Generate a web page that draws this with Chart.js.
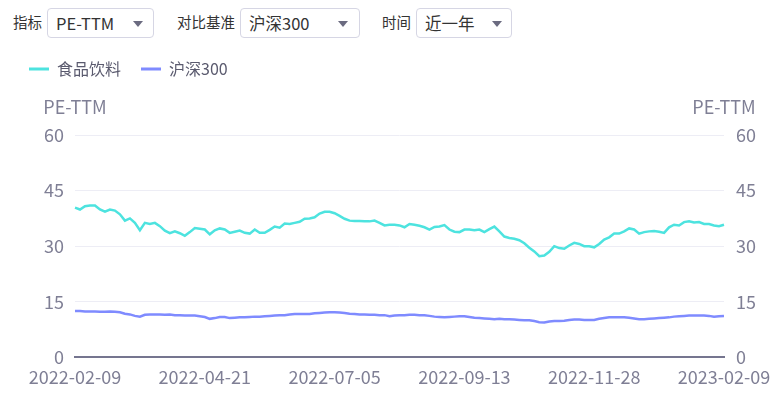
<!DOCTYPE html>
<html>
<head>
<meta charset="utf-8">
<script src="https://cdn.jsdelivr.net/npm/chart.js@4"></script>
<style>
  html, body { margin: 0; padding: 0; background: #fff; }
  body { width: 781px; height: 397px; position: relative; overflow: hidden;
         font-family: "Noto Sans CJK SC", "Noto Sans", sans-serif; }
  .lbl { position: absolute; top: 12px; font-size: 14.5px; color: #333; line-height: 20px; }
  .sel { position: absolute; top: 8px; height: 28px; border: 1px solid #d6d6e4; border-radius: 4px;
         box-sizing: content-box; font-size: 16.5px; color: #333; line-height: 28px; }
  .sel span { position: absolute; left: 8px; top: 0; }
  .sel i { position: absolute; top: 12px; width: 0; height: 0;
           border-left: 5px solid transparent; border-right: 5px solid transparent;
           border-top: 6px solid #6b6b80; }
  #wrap { position: absolute; left: 0; top: 0; width: 781px; height: 397px; }
</style>
</head>
<body>
<div class="lbl" style="left:13px">指标</div>
<div class="sel" style="left:47px;width:105px"><span>PE-TTM</span><i style="left:85px"></i></div>
<div class="lbl" style="left:177px">对比基准</div>
<div class="sel" style="left:240px;width:118px"><span>沪深300</span><i style="left:97px"></i></div>
<div class="lbl" style="left:382px">时间</div>
<div class="sel" style="left:416px;width:94px"><span>近一年</span><i style="left:75px"></i></div>

<div id="wrap"><canvas id="peChart" width="781" height="397"></canvas></div>

<script>
// x轴刻度标签(每26个点一个)
const tickLabels = ['2022-02-09', '2022-04-21', '2022-07-05', '2022-09-13', '2022-11-28', '2023-02-09'];
const tickStep = 26;

// 食品饮料 PE-TTM
const foodPE = [
    40.4, 39.9, 40.8, 41.0, 41.0, 39.9, 39.3, 39.9, 39.6, 38.6,
    36.9, 37.5, 36.3, 34.3, 36.3, 36.0, 36.3, 35.4, 34.2, 33.5,
    34.0, 33.5, 32.8, 33.8, 34.9, 34.7, 34.5, 33.2, 34.3, 34.8,
    34.5, 33.6, 33.9, 34.2, 33.6, 33.4, 34.5, 33.6, 33.6, 34.4,
    35.3, 35.0, 36.1, 36.0, 36.3, 36.6, 37.4, 37.5, 37.8, 38.8,
    39.3, 39.3, 38.9, 38.2, 37.4, 36.9, 36.8, 36.8, 36.7, 36.7,
    36.9, 36.3, 35.6, 35.8, 35.8, 35.6, 35.1, 36.0, 35.8, 35.5,
    35.1, 34.5, 35.2, 35.3, 35.7, 34.5, 33.9, 33.8, 34.5, 34.5,
    34.3, 34.5, 33.8, 34.6, 35.3, 34.0, 32.6, 32.2, 32.0, 31.6,
    30.8, 29.6, 28.6, 27.3, 27.5, 28.5, 30.0, 29.5, 29.3, 30.2,
    30.9, 30.6, 30.0, 30.0, 29.7, 30.6, 31.8, 32.4, 33.4, 33.4,
    34.0, 34.8, 34.5, 33.4, 33.8, 34.0, 34.1, 33.9, 33.6, 35.1,
    35.8, 35.6, 36.5, 36.7, 36.4, 36.5, 36.0, 36.0, 35.6, 35.4,
    35.8
];

// 沪深300 PE-TTM
const hs300PE = [
    12.5, 12.5, 12.4, 12.4, 12.4, 12.3, 12.3, 12.4, 12.3, 12.2,
    11.8, 11.6, 11.2, 11.0, 11.5, 11.6, 11.6, 11.6, 11.5, 11.6,
    11.4, 11.4, 11.3, 11.3, 11.3, 11.1, 10.9, 10.4, 10.6, 10.9,
    10.9, 10.6, 10.7, 10.8, 10.8, 10.9, 11.0, 11.0, 11.1, 11.2,
    11.3, 11.4, 11.4, 11.6, 11.7, 11.7, 11.7, 11.7, 11.9, 12.0,
    12.1, 12.2, 12.2, 12.1, 12.0, 11.8, 11.7, 11.6, 11.6, 11.5,
    11.5, 11.4, 11.4, 11.1, 11.3, 11.4, 11.4, 11.5, 11.5, 11.4,
    11.4, 11.2, 11.0, 10.9, 10.8, 10.9, 11.0, 11.1, 11.1, 10.9,
    10.7, 10.6, 10.5, 10.4, 10.3, 10.4, 10.3, 10.3, 10.2, 10.1,
    10.0, 10.0, 9.8, 9.5, 9.4, 9.7, 9.8, 9.8, 9.9, 10.1,
    10.2, 10.2, 10.1, 10.1, 10.1, 10.4, 10.6, 10.8, 10.8, 10.8,
    10.8, 10.7, 10.5, 10.3, 10.3, 10.4, 10.5, 10.6, 10.7, 10.8,
    11.0, 11.1, 11.2, 11.3, 11.3, 11.3, 11.3, 11.2, 11.0, 11.1,
    11.2
];

const seriesNames = ['食品饮料', '沪深300'];
const seriesColors = ['#4de3df', '#7f8bff'];

document.addEventListener("DOMContentLoaded", function () {
    const labels = foodPE.map((v, i) => i % tickStep === 0 ? tickLabels[i / tickStep] : '');
    const axisColor = '#7f7f95';
    const tickFont = { size: 18, family: '"Noto Sans CJK SC", "Noto Sans", sans-serif' };

    // 图例下方留白
    const legendMargin = {
        id: 'legendMargin',
        beforeInit(chart) {
            const fit = chart.legend.fit;
            chart.legend.fit = function () {
                fit.bind(chart.legend)();
                this.height = 94;
            };
        }
    };

    // 左右两侧的 PE-TTM 标题
    const axisTitles = {
        id: 'axisTitles',
        afterDraw(chart) {
            const ctx = chart.ctx;
            const area = chart.chartArea;
            ctx.save();
            ctx.font = '18px "Noto Sans CJK SC", "Noto Sans", sans-serif';
            ctx.fillStyle = axisColor;
            ctx.textAlign = 'center';
            ctx.textBaseline = 'middle';
            ctx.fillText('PE-TTM', area.left, 107);
            ctx.fillText('PE-TTM', area.right, 107);
            ctx.restore();
        }
    };

    new Chart(document.getElementById('peChart'), {
        type: 'line',
        data: {
            labels: labels,
            datasets: [{
                label: seriesNames[0],
                data: foodPE,
                borderColor: seriesColors[0],
                backgroundColor: seriesColors[0],
                borderWidth: 2.5,
                pointRadius: 0,
                tension: 0,
                yAxisID: 'y'
            }, {
                label: seriesNames[1],
                data: hs300PE,
                borderColor: seriesColors[1],
                backgroundColor: seriesColors[1],
                borderWidth: 2.5,
                pointRadius: 0,
                tension: 0,
                yAxisID: 'y'
            }]
        },
        options: {
            responsive: false,
            animation: false,
            layout: { padding: { top: 41, left: 9, right: 0, bottom: 0 } },
            plugins: {
                legend: {
                    align: 'start',
                    labels: {
                        boxWidth: 20,
                        boxHeight: 3,
                        padding: 20,
                        color: '#5a5a6e',
                        font: { size: 16, family: '"Noto Sans CJK SC", "Noto Sans", sans-serif' },
                        generateLabels(chart) {
                            const items = Chart.defaults.plugins.legend.labels.generateLabels(chart);
                            items.forEach(it => { it.lineWidth = 0; });
                            return items;
                        }
                    }
                },
                tooltip: { enabled: false }
            },
            scales: {
                x: {
                    grid: { display: false, drawTicks: false },
                    border: { display: true, color: '#75758f', width: 2 },
                    ticks: {
                        autoSkip: false,
                        maxRotation: 0,
                        padding: 9,
                        color: axisColor,
                        font: tickFont
                    }
                },
                y: {
                    position: 'left',
                    min: 0,
                    max: 60,
                    grid: { color: '#ededf5', drawTicks: false },
                    border: { display: false },
                    ticks: { stepSize: 15, padding: 11, color: axisColor, font: tickFont },
                    afterFit(scale) { scale.width = 66; }
                },
                y2: {
                    position: 'right',
                    min: 0,
                    max: 60,
                    grid: { display: false, drawTicks: false },
                    border: { display: false },
                    ticks: { stepSize: 15, padding: 12, color: axisColor, font: tickFont },
                    afterFit(scale) { scale.width = 57; }
                }
            }
        },
        plugins: [legendMargin, axisTitles]
    });
});
</script>
</body>
</html>
